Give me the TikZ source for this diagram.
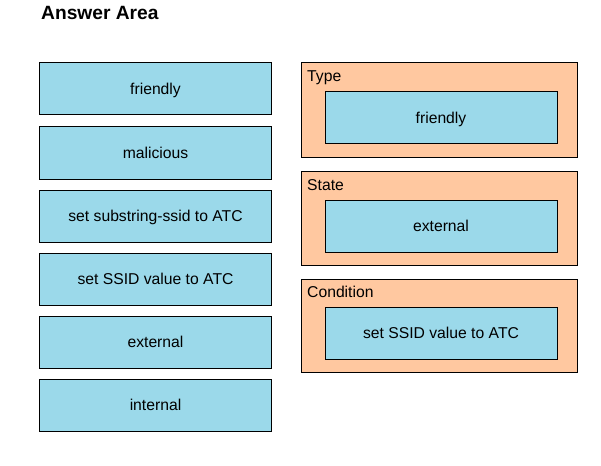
\documentclass[tikz,border=0pt]{standalone}
\usepackage{fontspec}
\setmainfont{Liberation Sans}
\definecolor{optblue}{RGB}{155,217,234}
\definecolor{areaorange}{RGB}{255,200,160}
\tikzset{
	optbox/.style={draw=black, line width=1pt, fill=optblue, minimum width=232pt, minimum height=52pt, inner sep=0pt, text height=11pt, text depth=0.4pt, font=\fontsize{15.7}{18}\selectfont},
	areabox/.style={draw=black, line width=1pt, fill=areaorange, minimum width=276pt, inner sep=0pt},
	arealabel/.style={anchor=base west, inner sep=0pt, font=\fontsize{15.7}{18}\selectfont}
}
\begin{document}
\begin{tikzpicture}[x=1pt, y=-1pt]
	\useasboundingbox (0, 0) rectangle (601, 465);
	\node[anchor=base west, inner sep=0pt, font=\bfseries\fontsize{19.2}{22}\selectfont] (title) at (41, 20) {Answer Area};
	% options
	\node[optbox] (friendly) at (155.5, 89) {friendly};
	\node[optbox] (malicious) at (155.5, 153) {malicious};
	\node[optbox] (substring) at (155.5, 216) {set substring-ssid to ATC};
	\node[optbox] (ssidvalue) at (155.5, 279) {set SSID value to ATC};
	\node[optbox] (external) at (155.5, 342) {external};
	\node[optbox] (internal) at (155.5, 405) {internal};
	% answer areas
	\node[areabox, minimum height=94pt] (type) at (439, 110) {};
	\node[arealabel] (typelabel) at (307, 82) {Type};
	\node[optbox] (typeanswer) at (441, 118) {friendly};
	\node[areabox, minimum height=94pt] (state) at (439, 218) {};
	\node[arealabel] (statelabel) at (307, 190) {State};
	\node[optbox] (stateanswer) at (441, 226) {external};
	\node[areabox, minimum height=93pt] (condition) at (439, 325.5) {};
	\node[arealabel] (conditionlabel) at (307, 297) {Condition};
	\node[optbox] (conditionanswer) at (441, 333) {set SSID value to ATC};
\end{tikzpicture}
\end{document}
